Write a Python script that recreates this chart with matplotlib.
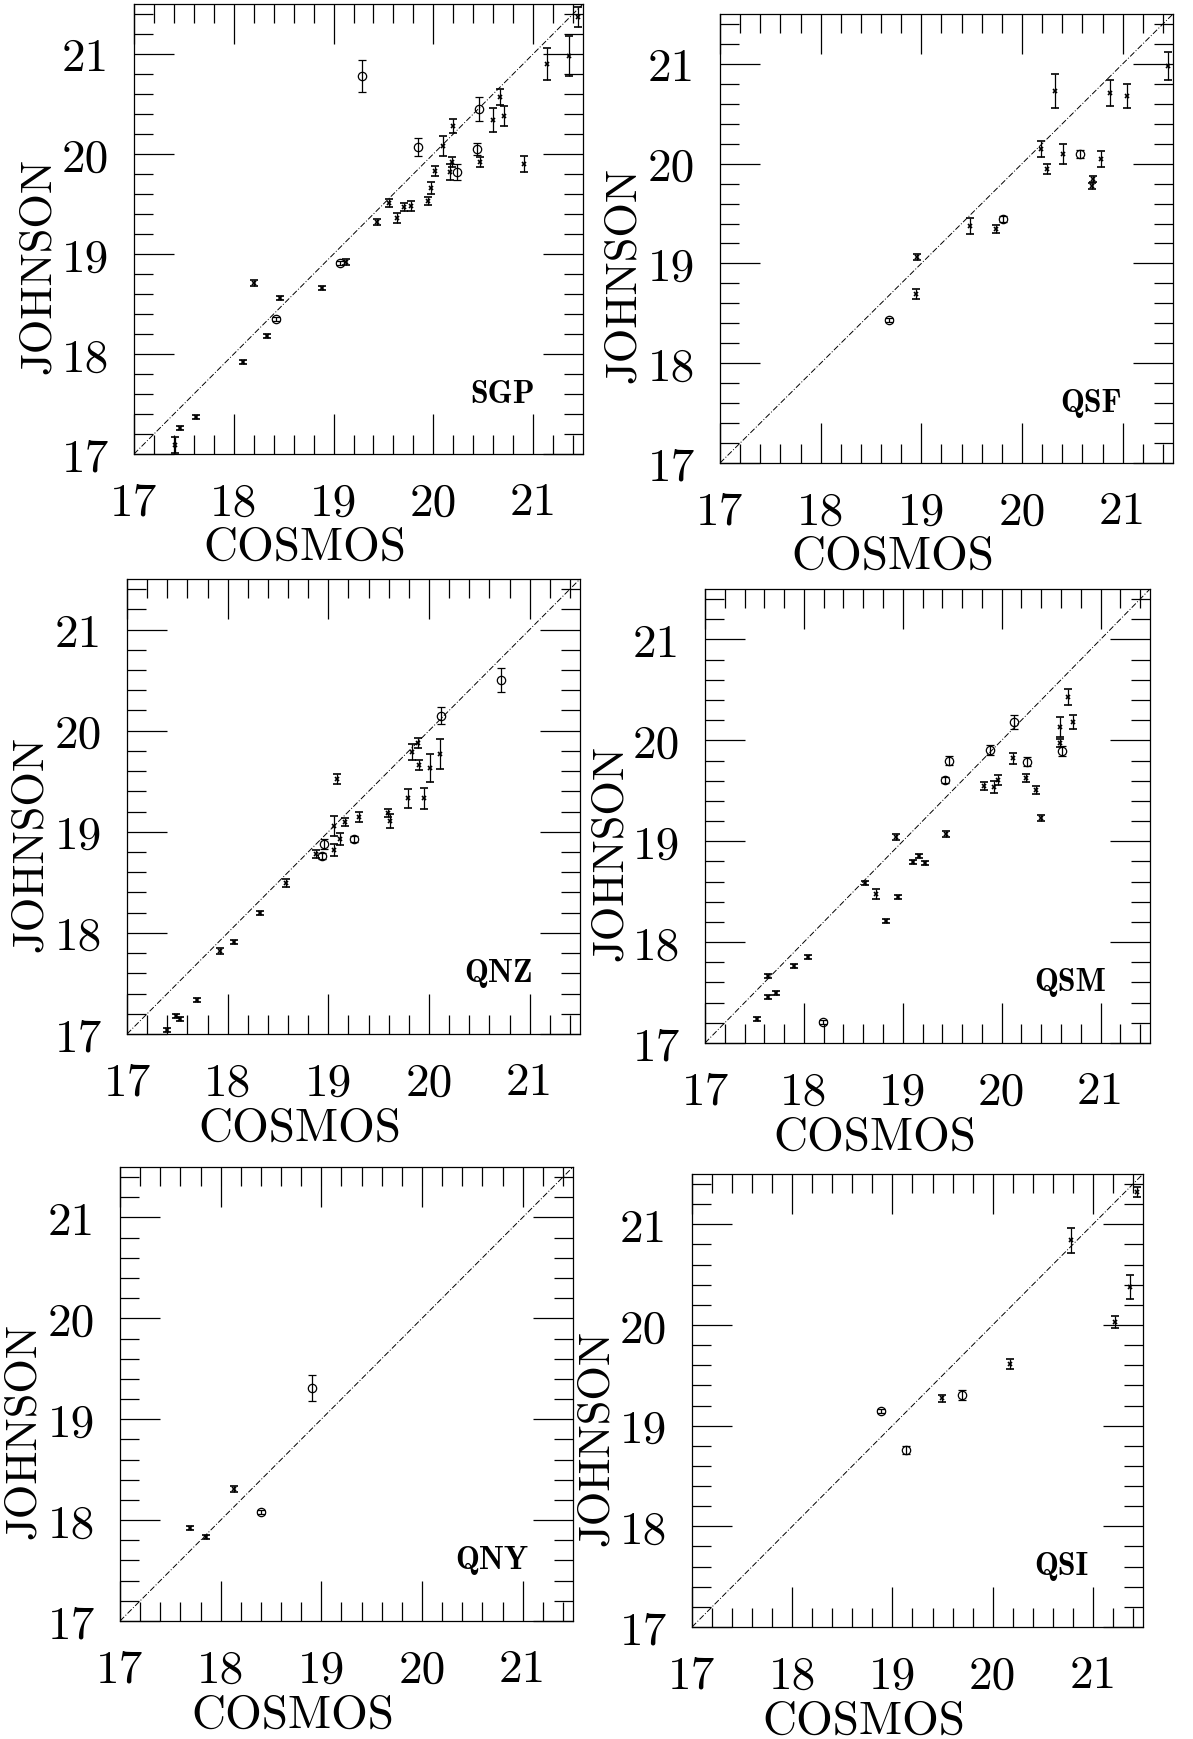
import matplotlib.pyplot as plt
from matplotlib.ticker import MultipleLocator, FixedLocator

plt.rcParams['font.family'] = ['cmr10', 'DejaVu Serif']
plt.rcParams['axes.formatter.use_mathtext'] = True

# COSMOS vs Johnson magnitudes for each field
# marks: 'o' = open circle, 'x' = cross
sgp_cosmos = [19.29, 21.14, 21.36, 21.45, 20.46, 20.67, 20.60, 20.71, 20.20, 19.85, 20.10, 20.44,
              20.47, 20.91, 20.19, 20.17, 20.24, 20.02, 19.98, 19.95, 19.56, 19.64, 19.71, 19.78,
              19.44, 19.06, 19.12, 18.88, 18.20, 18.46, 18.42, 18.33, 18.09, 17.62, 17.46, 17.41]
sgp_johnson = [20.78, 20.90, 20.98, 21.37, 20.45, 20.57, 20.34, 20.38, 20.28, 20.07, 20.08, 20.05,
               19.92, 19.90, 19.92, 19.82, 19.82, 19.83, 19.66, 19.53, 19.51, 19.36, 19.47, 19.48,
               19.32, 18.91, 18.92, 18.66, 18.71, 18.56, 18.35, 18.18, 17.92, 17.37, 17.26, 17.09]
sgp_err = [0.16, 0.16, 0.20, 0.10, 0.12, 0.08, 0.12, 0.10, 0.07, 0.09, 0.10, 0.06,
           0.05, 0.08, 0.05, 0.08, 0.08, 0.05, 0.06, 0.04, 0.04, 0.05, 0.04, 0.05,
           0.03, 0.02, 0.03, 0.02, 0.03, 0.02, 0.02, 0.02, 0.02, 0.02, 0.02, 0.08]
sgp_marks = "oxxxoxxxxoxoxxxxoxxxxxxxxoxxxxoxxxxx"

qsf_cosmos = [20.33, 20.87, 21.04, 21.45, 20.19, 20.25, 20.41, 20.58, 20.78, 20.71, 20.70,
              19.48, 19.74, 19.81, 18.96, 18.95, 18.68]
qsf_johnson = [20.73, 20.71, 20.68, 20.98, 20.15, 19.95, 20.10, 20.10, 20.05, 19.85, 19.78,
               19.38, 19.35, 19.45, 19.06, 18.69, 18.43]
qsf_err = [0.17, 0.13, 0.12, 0.14, 0.08, 0.05, 0.10, 0.04, 0.08, 0.03, 0.03,
           0.08, 0.04, 0.03, 0.03, 0.05, 0.02]
qsf_marks = "xxxxxxxoxxxxxoxxo"

qnz_cosmos = [20.72, 20.12, 19.83, 19.89, 20.11, 19.90, 20.01, 19.79, 19.95, 19.09, 19.06, 19.17,
              19.30, 19.59, 19.61, 19.12, 19.25, 18.96, 19.06, 18.88, 18.94, 18.58, 18.32, 18.06,
              17.92, 17.70, 17.49, 17.53, 17.40]
qnz_johnson = [20.50, 20.15, 19.79, 19.88, 19.77, 19.66, 19.63, 19.33, 19.33, 19.52, 19.06, 19.10,
               19.15, 19.19, 19.11, 18.93, 18.93, 18.88, 18.82, 18.78, 18.76, 18.49, 18.20, 17.91,
               17.82, 17.34, 17.18, 17.15, 17.04]
qnz_err = [0.12, 0.08, 0.08, 0.05, 0.15, 0.05, 0.14, 0.09, 0.10, 0.05, 0.10, 0.04,
           0.05, 0.04, 0.07, 0.06, 0.03, 0.05, 0.06, 0.04, 0.03, 0.04, 0.02, 0.02,
           0.03, 0.02, 0.02, 0.02, 0.02]
qnz_marks = "ooxxxxxxxxxxxxxxooxxoxxxxxxxx"

qsm_cosmos = [20.67, 20.72, 20.59, 20.59, 20.61, 20.12, 19.88, 20.11, 20.26, 20.25, 20.35,
              19.96, 19.92, 19.82, 20.40, 19.47, 19.43, 19.44, 18.93, 19.10, 19.16, 19.22,
              18.62, 18.73, 18.95, 18.83, 18.04, 17.90, 17.64, 17.64, 17.72, 17.53, 18.19]
qsm_johnson = [20.43, 20.18, 20.13, 19.97, 19.89, 20.18, 19.90, 19.82, 19.79, 19.63, 19.51,
               19.61, 19.54, 19.55, 19.23, 19.80, 19.61, 19.07, 19.04, 18.79, 18.85, 18.78,
               18.59, 18.48, 18.45, 18.21, 17.85, 17.76, 17.66, 17.46, 17.50, 17.24, 17.21]
qsm_err = [0.08, 0.07, 0.10, 0.04, 0.05, 0.07, 0.05, 0.05, 0.04, 0.04, 0.04,
           0.05, 0.06, 0.04, 0.03, 0.04, 0.03, 0.03, 0.03, 0.02, 0.02, 0.02,
           0.02, 0.05, 0.02, 0.02, 0.02, 0.02, 0.02, 0.02, 0.02, 0.02, 0.02]
qsm_marks = "xxxxoooxoxxxxxxooxxxxxxxxxxxxxxxo"

qny_cosmos = [18.91, 18.13, 18.40, 17.70, 17.85]
qny_johnson = [19.31, 18.31, 18.08, 17.92, 17.83]
qny_err = [0.13, 0.03, 0.02, 0.02, 0.02]
qny_marks = "oxoxx"

qsi_cosmos = [20.78, 21.37, 21.22, 20.17, 19.69, 19.49, 18.89, 19.14, 21.44]
qsi_johnson = [20.84, 20.38, 20.03, 19.61, 19.30, 19.27, 19.15, 18.76, 21.32]
qsi_err = [0.12, 0.12, 0.06, 0.05, 0.05, 0.03, 0.02, 0.04, 0.05]
qsi_marks = "xxxxoxoox"

tick_values = [17, 18, 19, 20, 21]
tick_labels = ['17', '18', '19', '20', '21']

W, H = 1193, 1740
fig = plt.figure(figsize=(W / 100, H / 100), dpi=100)


def add_panel(left, top, right, bottom):
    # box given in pixels from the top-left corner
    return fig.add_axes([left / W, 1 - bottom / H, (right - left) / W, (bottom - top) / H])


def draw_panel(ax, cosmos, johnson, err, marks, name):
    ax.plot([17, 21.5], [17, 21.5], color='k', lw=0.7, ls=(0, (6, 2, 1, 2)))
    for x, y, e, m in zip(cosmos, johnson, err, marks):
        if m == 'o':
            ax.errorbar(x, y, yerr=e, fmt='o', mfc='none', mec='k', mew=0.9, ms=6,
                        ecolor='k', elinewidth=0.9, capsize=3, capthick=0.9)
        else:
            ax.errorbar(x, y, yerr=e, fmt='x', color='k', mew=1.2, ms=3.5,
                        elinewidth=0.9, capsize=3, capthick=1.2)
    ax.set_xlim(17, 21.5)
    ax.set_ylim(17, 21.5)
    for axis in (ax.xaxis, ax.yaxis):
        axis.set_major_locator(FixedLocator(tick_values))
        axis.set_minor_locator(MultipleLocator(0.2))
    ax.set_xticklabels(tick_labels)
    ax.set_yticklabels(tick_labels)
    ax.tick_params(which='both', direction='in', top=True, right=True, width=0.9)
    ax.tick_params(which='major', length=29, labelsize=34)
    ax.tick_params(which='minor', length=14)
    ax.tick_params(axis='x', which='major', pad=20)
    ax.tick_params(axis='y', which='major', pad=18)
    for sp in ax.spines.values():
        sp.set_linewidth(0.9)
    ax.text(0.381, -0.207, 'COSMOS', transform=ax.transAxes, ha='center', va='center',
            fontsize=34)
    ax.text(-0.212, 0.42, 'JOHNSON', transform=ax.transAxes, ha='center', va='center',
            fontsize=32, rotation=90)
    ax.text(0.82, 0.135, name, transform=ax.transAxes, ha='center', va='center',
            fontsize=23, family=['cmb10', 'DejaVu Serif'])


draw_panel(add_panel(134, 5, 583, 455), sgp_cosmos, sgp_johnson, sgp_err, sgp_marks, 'SGP')
draw_panel(add_panel(720, 15, 1173, 464), qsf_cosmos, qsf_johnson, qsf_err, qsf_marks, 'QSF')
draw_panel(add_panel(127, 580, 580, 1035), qnz_cosmos, qnz_johnson, qnz_err, qnz_marks, 'QNZ')
draw_panel(add_panel(705, 590, 1150, 1044), qsm_cosmos, qsm_johnson, qsm_err, qsm_marks, 'QSM')
draw_panel(add_panel(120, 1168, 573, 1622), qny_cosmos, qny_johnson, qny_err, qny_marks, 'QNY')
draw_panel(add_panel(692, 1175, 1143, 1628), qsi_cosmos, qsi_johnson, qsi_err, qsi_marks, 'QSI')

fig.savefig('out.png', dpi=100)
